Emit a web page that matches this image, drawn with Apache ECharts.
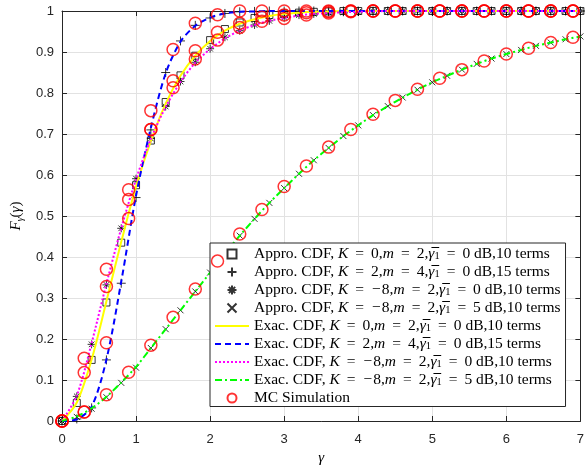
<!DOCTYPE html>
<html><head><meta charset="utf-8">
<script src="https://cdn.jsdelivr.net/npm/echarts@6/dist/echarts.min.js"></script>
<style>html,body{margin:0;padding:0;background:#fff}#c{width:587px;height:473px}</style>
</head><body><div id="c"></div>
<script>
// ---- data ----
const gammaFine = [0,0.2,0.4,0.6,0.8,1.0,1.2,1.4,1.6,1.8,2.0,2.2,2.4,2.6,2.8,3.0,3.2,3.4,3.6,3.8,4.0,4.2,4.4,4.6,4.8,5.0,5.2,5.4,5.6,5.8,6.0,6.2,6.4,6.6,6.8,7.0];
const gammaMC = [0,0.3,0.6,0.9,1.2,1.5,1.8,2.1,2.4,2.7,3.0,3.3,3.6,3.9,4.2,4.5,4.8,5.1,5.4,5.7,6.0,6.3,6.6,6.9];
const xTicks = [0,1,2,3,4,5,6,7];
const yTicks = [0,0.1,0.2,0.3,0.4,0.5,0.6,0.7,0.8,0.9,1];

// Approximate CDF (markers)
const approxK0  = [0,0.044,0.149,0.289,0.435,0.575,0.684,0.778,0.843,0.891,0.929,0.956,0.972,0.983,0.990,0.994,0.996,0.998,0.999,1,1,1,1,1,1,1,1,1,1,1,1,1,1,1,1,1];
const approxK2  = [0,0.005,0.032,0.149,0.336,0.545,0.710,0.850,0.927,0.965,0.983,0.994,0.998,0.999,1,1,1,1,1,1,1,1,1,1,1,1,1,1,1,1,1,1,1,1,1,1];
const approxKm8 = [0,0.060,0.187,0.332,0.470,0.591,0.689,0.767,0.828,0.875,0.908,0.936,0.952,0.966,0.976,0.984,0.990,0.993,0.996,0.997,0.998,0.999,1,1,1,1,1,1,1,1,1,1,1,1,1,1];
const approxKm8g5 = [0,0.010,0.030,0.058,0.093,0.130,0.178,0.224,0.270,0.316,0.362,0.408,0.452,0.493,0.532,0.568,0.603,0.636,0.666,0.695,0.721,0.746,0.768,0.789,0.808,0.826,0.842,0.857,0.871,0.884,0.895,0.905,0.915,0.923,0.931,0.938];

// Exact CDF (lines)
const exactK0  = [0,0.045,0.150,0.292,0.437,0.572,0.683,0.774,0.842,0.891,0.927,0.952,0.969,0.980,0.988,0.993,0.996,0.998,0.999,1,1,1,1,1,1,1,1,1,1,1,1,1,1,1,1,1];
const exactK2  = [0,0.004,0.035,0.150,0.340,0.550,0.715,0.848,0.925,0.964,0.984,0.994,0.998,0.999,1,1,1,1,1,1,1,1,1,1,1,1,1,1,1,1,1,1,1,1,1,1];
const exactKm8 = [0,0.062,0.190,0.335,0.470,0.590,0.688,0.766,0.827,0.874,0.907,0.933,0.952,0.966,0.976,0.983,0.989,0.993,0.995,0.997,0.998,0.999,1,1,1,1,1,1,1,1,1,1,1,1,1,1];
const exactKm8g5 = [0,0.011,0.031,0.059,0.094,0.132,0.178,0.224,0.270,0.316,0.362,0.408,0.452,0.493,0.532,0.568,0.603,0.636,0.666,0.695,0.721,0.746,0.768,0.789,0.808,0.826,0.842,0.857,0.871,0.884,0.895,0.905,0.915,0.923,0.931,0.938];

// Monte-Carlo simulation (circles)
const mcK0  = [0,0.118,0.328,0.540,0.711,0.830,0.903,0.948,0.970,0.985,0.990,0.996,0.998,1,1,1,1,1,1,1,1,1,1,1];
const mcK2  = [0,0.022,0.191,0.494,0.757,0.906,0.970,0.991,1,1,1,1,1,1,1,1,1,1,1,1,1,1,1,1];
const mcKm8 = [0,0.153,0.370,0.564,0.711,0.813,0.883,0.929,0.960,0.975,0.982,0.990,0.995,0.998,1,1,1,1,1,1,1,1,1,1];
const mcKm8g5 = [0,0.022,0.064,0.119,0.185,0.253,0.322,0.390,0.456,0.516,0.572,0.622,0.668,0.711,0.748,0.782,0.809,0.836,0.857,0.878,0.895,0.909,0.923,0.936];

const names = [
  'Appro. CDF, K=0,m=2,g1=0 dB,10 terms',
  'Appro. CDF, K=2,m=4,g1=0 dB,15 terms',
  'Appro. CDF, K=-8,m=2,g1=0 dB,10 terms',
  'Appro. CDF, K=-8,m=2,g1=5 dB,10 terms',
  'Exac. CDF, K=0,m=2,g1=0 dB,10 terms',
  'Exac. CDF, K=2,m=4,g1=0 dB,15 terms',
  'Exac. CDF, K=-8,m=2,g1=0 dB,10 terms',
  'Exac. CDF, K=-8,m=2,g1=5 dB,10 terms',
  'MC Simulation'
];
const labels = [
  'Appro. CDF, {i|K}{e|=}0,{i|m}{e|=}2,{g|γ\u0305}{s|1}{e|=}0 dB,10 terms',
  'Appro. CDF, {i|K}{e|=}2,{i|m}{e|=}4,{g|γ\u0305}{s|1}{e|=}0 dB,15 terms',
  'Appro. CDF, {i|K}{e|=}{e2|\u2212}8,{i|m}{e|=}2,{g|γ\u0305}{s|1}{e|=}0 dB,10 terms',
  'Appro. CDF, {i|K}{e|=}{e2|\u2212}8,{i|m}{e|=}2,{g|γ\u0305}{s|1}{e|=}5 dB,10 terms',
  'Exac. CDF, {i|K}{e|=}0,{i|m}{e|=}2,{g|γ\u0305}{s|1}{e|=}0 dB,10 terms',
  'Exac. CDF, {i|K}{e|=}2,{i|m}{e|=}4,{g|γ\u0305}{s|1}{e|=}0 dB,15 terms',
  'Exac. CDF, {i|K}{e|=}{e2|\u2212}8,{i|m}{e|=}2,{g|γ\u0305}{s|1}{e|=}0 dB,10 terms',
  'Exac. CDF, {i|K}{e|=}{e2|\u2212}8,{i|m}{e|=}2,{g|γ\u0305}{s|1}{e|=}5 dB,10 terms',
  'MC Simulation'
];

function pairs(xs, ys){ return xs.map((x,i)=>[x, ys[i]]); }

const SQUARE = 'path://M-5,-5L5,-5L5,5L-5,5Z';
const PLUS = 'path://M0,-5L0,5M-5,0L5,0';
const STAR = 'path://M0,-5L0,5M-5,0L5,0M-3.5,-3.5L3.5,3.5M-3.5,3.5L3.5,-3.5';
const CROSS = 'path://M-5,-5L5,5M-5,5L5,-5';

function approxSeries(name, ys, symbol, size){
  return {name, type:'scatter', data:pairs(gammaFine, ys), symbol, symbolSize:size,
    itemStyle:{color:'rgba(0,0,0,0)', borderColor:'#000', borderWidth:1}, z:2, silent:true};
}
function exactSeries(name, ys, color, type){
  return {name, type:'line', data:pairs(gammaFine, ys), symbol:'none', smooth:0.3,
    lineStyle:{color, width:2, type}, itemStyle:{color}, z:3, silent:true};
}
const mcData = [];
[mcK0, mcK2, mcKm8, mcKm8g5].forEach(arr => gammaMC.forEach((x,i)=>mcData.push([x, arr[i]])));

const serif = 'Liberation Serif, Times New Roman, serif';
const sans = 'Liberation Sans, Arial, Helvetica, sans-serif';
const axisColor = '#262626';
const LF = 15.5;

const legendData = names.map((n, k) => (k >= 4 && k <= 7)
  ? {name:n, itemStyle:{color:'rgba(0,0,0,0)', borderColor:'rgba(0,0,0,0)', borderWidth:0}}
  : {name:n});

const option = {
  backgroundColor:'#fff',
  animation:false,
  grid:{left:62, right:5, top:11, bottom:52, show:false},
  xAxis:[
    {type:'value', min:xTicks[0], max:xTicks[xTicks.length-1], interval:1, position:'bottom',
     axisLine:{show:true, onZero:false, lineStyle:{color:axisColor, width:1}},
     axisTick:{show:true, inside:true, length:5, lineStyle:{color:axisColor}},
     axisLabel:{color:axisColor, fontSize:13, fontFamily:sans, margin:12},
     splitLine:{show:true, lineStyle:{color:'#e2e2e2', width:1}},
     name:'γ', nameLocation:'middle', nameGap:29,
     nameTextStyle:{fontFamily:serif, fontStyle:'italic', fontSize:15, color:'#000'}},
    {type:'value', min:xTicks[0], max:xTicks[xTicks.length-1], interval:1, position:'top',
     axisLine:{show:true, onZero:false, lineStyle:{color:axisColor, width:1}},
     axisTick:{show:true, inside:true, length:5, lineStyle:{color:axisColor}},
     axisLabel:{show:false}, splitLine:{show:false}}
  ],
  yAxis:[
    {type:'value', min:yTicks[0], max:yTicks[yTicks.length-1], interval:0.1, position:'left',
     axisLine:{show:true, onZero:false, lineStyle:{color:axisColor, width:1}},
     axisTick:{show:true, inside:true, length:5, lineStyle:{color:axisColor}},
     axisLabel:{color:axisColor, fontSize:13, fontFamily:sans, margin:8},
     splitLine:{show:true, lineStyle:{color:'#e2e2e2', width:1}},
     name:'{i|F}{s|γ}{n|(}{i|γ}{n|)}', nameLocation:'middle', nameGap:33, nameRotate:90,
     nameTextStyle:{color:'#000', rich:{
       i:{fontFamily:serif, fontStyle:'italic', fontSize:15, lineHeight:18},
       n:{fontFamily:serif, fontSize:15, lineHeight:18},
       s:{fontFamily:serif, fontStyle:'italic', fontSize:10, lineHeight:10, verticalAlign:'bottom'}
     }}},
    {type:'value', min:yTicks[0], max:yTicks[yTicks.length-1], interval:0.1, position:'right',
     axisLine:{show:true, onZero:false, lineStyle:{color:axisColor, width:1}},
     axisTick:{show:true, inside:true, length:5, lineStyle:{color:axisColor}},
     axisLabel:{show:false}, splitLine:{show:false}}
  ],
  legend:{
    data:legendData, orient:'vertical', left:210, top:243,
    backgroundColor:'#fff', borderColor:axisColor, borderWidth:1, borderRadius:0,
    padding:[3,5,0.5,4], itemGap:2, itemWidth:34, itemHeight:9,
    selectedMode:false,
    formatter: name => labels[names.indexOf(name)],
    textStyle:{fontFamily:serif, fontSize:LF, color:'#000', lineHeight:16,
      rich:{
        i:{fontFamily:serif, fontStyle:'italic', fontSize:LF, lineHeight:16},
        g:{fontFamily:serif, fontStyle:'italic', fontSize:LF, lineHeight:16},
        e:{fontFamily:serif, fontSize:LF, lineHeight:16, padding:[0,7,0,7]},
        e2:{fontFamily:serif, fontSize:LF, lineHeight:16, padding:[0,1,0,1]},
        s:{fontFamily:serif, fontSize:10.5, lineHeight:11, verticalAlign:'bottom'}
      }}
  },
  series:[
    approxSeries(names[0], approxK0, SQUARE, 7),
    approxSeries(names[1], approxK2, PLUS, 9),
    approxSeries(names[2], approxKm8, STAR, 8),
    approxSeries(names[3], approxKm8g5, CROSS, 6),
    exactSeries(names[4], exactK0, '#ffff00', 'solid'),
    exactSeries(names[5], exactK2, '#0000ff', [6,4]),
    exactSeries(names[6], exactKm8, '#ff00ff', [2,2]),
    exactSeries(names[7], exactKm8g5, '#00ff00', [7,3,2,3]),
    {name:names[8], type:'scatter', data:mcData, symbol:'circle', symbolSize:12,
     itemStyle:{color:'rgba(0,0,0,0)', borderColor:'#ff0000', borderWidth:1.5}, z:4, silent:true}
  ]
};
const chart = echarts.init(document.getElementById('c'), null, {renderer:'canvas'});
chart.setOption(option);
</script>
</body></html>
